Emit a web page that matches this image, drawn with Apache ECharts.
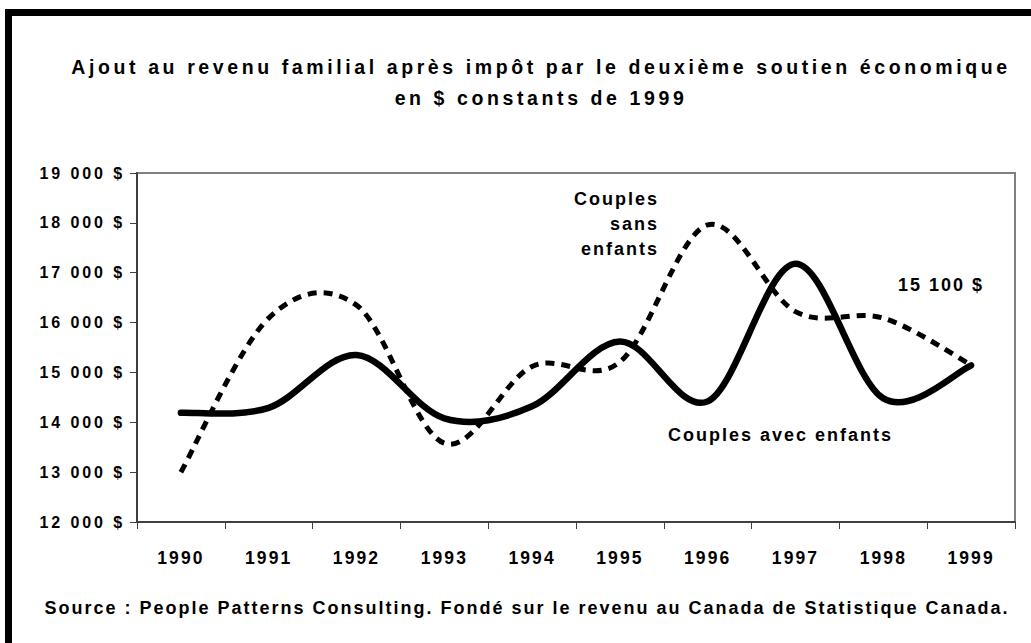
<!DOCTYPE html>
<html>
<head>
<meta charset="utf-8">
<script src="https://cdn.jsdelivr.net/npm/echarts@6/dist/echarts.min.js"></script>
<style>
html, body { margin: 0; padding: 0; background: #fff; }
#chart { width: 1031px; height: 643px; }
</style>
</head>
<body>
<div id="chart"></div>
<script>
// ---- Data ----
const years = ['1990', '1991', '1992', '1993', '1994', '1995', '1996', '1997', '1998', '1999'];
const couplesAvecEnfants = [14190, 14290, 15350, 14080, 14320, 15620, 14420, 17180, 14480, 15140];
const couplesSansEnfants = [13000, 16090, 16350, 13580, 15120, 15210, 17960, 16220, 16090, 15150];
const yTicks = [12000, 13000, 14000, 15000, 16000, 17000, 18000, 19000];
const yTickLabels = ['12 000 $', '13 000 $', '14 000 $', '15 000 $', '16 000 $', '17 000 $', '18 000 $', '19 000 $'];
const titleLines = ['Ajout au revenu familial après impôt par le deuxième soutien économique', 'en $ constants de 1999'];
const sourceText = 'Source : People Patterns Consulting. Fondé sur le revenu au Canada de Statistique Canada.';
const labelSans = ['Couples', 'sans', 'enfants'];
const labelAvec = 'Couples avec enfants';
const labelEnd = '15 100 $';

const FONT = '"Liberation Sans", Arial, Helvetica, sans-serif';

// Excel-like smoothed curve (Catmull-Rom / Bezier) through points placed by the axes
function curveRenderer(values, lineStyle) {
  return function (params, api) {
    if (params.dataIndex !== 0) return { type: 'group', children: [] };
    const pts = values.map((v, i) => api.coord([i, v]));
    const n = pts.length;
    let d = 'M' + pts[0][0].toFixed(2) + ' ' + pts[0][1].toFixed(2);
    for (let i = 0; i < n - 1; i++) {
      const p0 = pts[Math.max(i - 1, 0)], p1 = pts[i], p2 = pts[i + 1], p3 = pts[Math.min(i + 2, n - 1)];
      const c1x = p1[0] + (p2[0] - p0[0]) / 6, c1y = p1[1] + (p2[1] - p0[1]) / 6;
      const c2x = p2[0] - (p3[0] - p1[0]) / 6, c2y = p2[1] - (p3[1] - p1[1]) / 6;
      d += ' C' + c1x.toFixed(2) + ' ' + c1y.toFixed(2) + ' ' + c2x.toFixed(2) + ' ' + c2y.toFixed(2) + ' ' + p2[0].toFixed(2) + ' ' + p2[1].toFixed(2);
    }
    return {
      type: 'path',
      shape: { pathData: d },
      style: Object.assign({ fill: 'none', stroke: '#000' }, lineStyle)
    };
  };
}

function txt(text, x, y, align, size) {
  return {
    type: 'text', x: x, y: y, silent: true,
    style: {
      text: text, fill: '#000', fontFamily: FONT, fontWeight: 'bold', fontSize: size,
      align: align, verticalAlign: 'middle', textAlign: align, textVerticalAlign: 'middle'
    }
  };
}

const chart = echarts.init(document.getElementById('chart'), null, { renderer: 'svg' });
chart.setOption({
  animation: false,
  backgroundColor: '#fff',
  grid: {
    left: 137, top: 173, right: 16, bottom: 121,
    show: true, borderColor: '#808080', borderWidth: 2, backgroundColor: 'transparent'
  },
  xAxis: {
    type: 'category',
    data: years,
    boundaryGap: true,
    axisLine: { show: true, lineStyle: { color: '#404040', width: 2 } },
    axisTick: { show: true, length: 7, interval: 0, lineStyle: { color: '#404040', width: 1 } },
    axisLabel: { interval: 0, margin: 27, color: '#000', fontSize: 17.5, fontWeight: 'bold', fontFamily: FONT },
    splitLine: { show: false }
  },
  yAxis: {
    type: 'value',
    min: 12000, max: 19000, interval: 1000,
    axisLine: { show: true, lineStyle: { color: '#404040', width: 2 } },
    axisTick: { show: true, length: 7, lineStyle: { color: '#404040', width: 1 } },
    axisLabel: {
      margin: 12, color: '#000', fontSize: 16, fontWeight: 'bold', fontFamily: FONT,
      padding: [5, 0, 0, 0],
      formatter: function (v) { const k = yTicks.indexOf(v); return k >= 0 ? yTickLabels[k] : ''; }
    },
    splitLine: { show: false }
  },
  series: [
    {
      name: 'Couples sans enfants',
      type: 'custom',
      data: couplesSansEnfants.map((v, i) => [i, v]),
      encode: { x: 0, y: 1 },
      renderItem: curveRenderer(couplesSansEnfants, { lineWidth: 5, lineDash: [9, 7], lineCap: 'butt' }),
      silent: true,
      z: 3
    },
    {
      name: 'Couples avec enfants',
      type: 'custom',
      data: couplesAvecEnfants.map((v, i) => [i, v]),
      encode: { x: 0, y: 1 },
      renderItem: curveRenderer(couplesAvecEnfants, { lineWidth: 6.5, lineCap: 'round', lineJoin: 'round' }),
      silent: true,
      z: 4
    }
  ],
  graphic: [
    { type: 'rect', shape: { x: 5, y: 9, width: 1026, height: 7 }, style: { fill: '#000' }, silent: true },
    { type: 'rect', shape: { x: 5, y: 9, width: 7, height: 634 }, style: { fill: '#000' }, silent: true },
    txt(titleLines[0], 541, 67, 'center', 19.5),
    txt(titleLines[1], 541, 98, 'center', 19.5),
    txt(labelSans[0], 659, 199, 'right', 18),
    txt(labelSans[1], 659, 224, 'right', 18),
    txt(labelSans[2], 659, 249, 'right', 18),
    txt(labelEnd, 898, 285, 'left', 18),
    txt(labelAvec, 668, 435, 'left', 18),
    txt(sourceText, 527, 608, 'center', 18)
  ]
});

// Excel-style wide letter spacing of the original
function applySpacing() {
  const nodes = document.querySelectorAll('#chart svg text');
  nodes.forEach(function (el) {
    const t = (el.textContent || '').trim();
    let ls = '2px';
    if (titleLines.indexOf(t) >= 0) ls = '3.6px';
    else if (yTickLabels.indexOf(t) >= 0) ls = '2.9px';
    else if (years.indexOf(t) >= 0) ls = '2.1px';
    el.style.letterSpacing = ls;
  });
}
applySpacing();
chart.on('finished', applySpacing);
setTimeout(applySpacing, 50);
</script>
</body>
</html>
